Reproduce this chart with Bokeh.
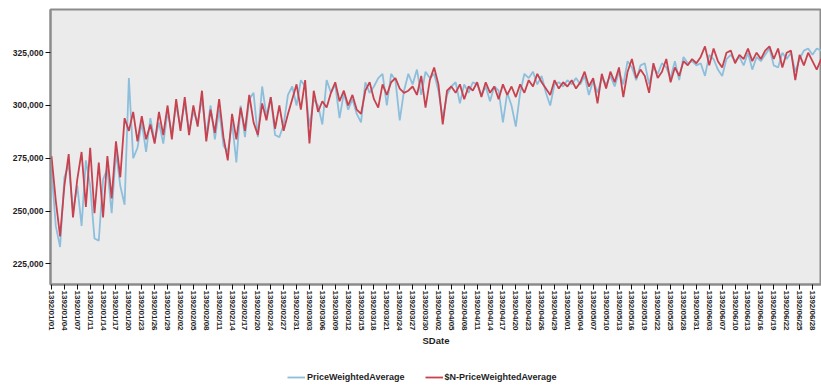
import math
from bokeh.plotting import figure
from bokeh.layouts import column
from bokeh.models import (Range1d, FixedTicker, NumeralTickFormatter, Legend,
                          LegendItem, ColumnDataSource)
from bokeh.embed import file_html
from bokeh.resources import INLINE

# ---------------- data ----------------
tick_labels = [
    "1392/01/01", "1392/01/04", "1392/01/07", "1392/01/11", "1392/01/14",
    "1392/01/17", "1392/01/20", "1392/01/23", "1392/01/26", "1392/01/29",
    "1392/02/02", "1392/02/05", "1392/02/08", "1392/02/11", "1392/02/14",
    "1392/02/17", "1392/02/20", "1392/02/24", "1392/02/27", "1392/02/31",
    "1392/03/03", "1392/03/06", "1392/03/09", "1392/03/12", "1392/03/15",
    "1392/03/18", "1392/03/21", "1392/03/24", "1392/03/27", "1392/03/30",
    "1392/04/02", "1392/04/05", "1392/04/08", "1392/04/11", "1392/04/14",
    "1392/04/17", "1392/04/20", "1392/04/23", "1392/04/26", "1392/04/29",
    "1392/05/01", "1392/05/04", "1392/05/07", "1392/05/10", "1392/05/13",
    "1392/05/16", "1392/05/19", "1392/05/22", "1392/05/25", "1392/05/28",
    "1392/05/31", "1392/06/03", "1392/06/07", "1392/06/10", "1392/06/13",
    "1392/06/16", "1392/06/19", "1392/06/22", "1392/06/25", "1392/06/28",
]
tick_every = 3

price_weighted = [
    270000, 243000, 233000, 266000, 272000, 250000, 262000, 243000, 274000, 262000,
    237000, 236000, 265000, 270000, 249000, 278000, 262000, 253000, 313000, 275000,
    280000, 292000, 278000, 294000, 283000, 292000, 282000, 297000, 287000, 300000,
    290000, 301000, 288000, 297000, 292000, 303000,
    286000, 300000, 284000, 298000, 281000, 278000, 292000, 273000, 300000, 285000,
    303000, 306000, 285000, 309000, 295000, 304000, 286000, 285000, 291000, 305000,
    309000, 300000, 312000, 309000, 290000, 303000, 300000, 291000, 312000, 306000,
    310000, 294000, 306000, 298000, 303000, 296000,
    292000, 311000, 306000, 309000, 313000, 315000, 300000, 315000, 312000, 293000,
    307000, 315000, 310000, 317000, 305000, 316000, 313000, 315000, 307000, 294000,
    305000, 309000, 311000, 301000, 310000, 306000, 311000, 310000, 305000, 309000,
    302000, 309000, 307000, 292000, 306000,
    300000, 290000, 306000, 315000, 313000, 316000, 310000, 314000, 306000, 300000,
    310000, 311000, 309000, 312000, 310000, 313000, 310000, 314000, 305000, 312000,
    306000, 313000, 310000, 314000, 309000, 316000, 310000, 321000, 318000, 312000,
    319000, 320000, 310000, 318000, 315000,
    320000, 318000, 313000, 321000, 312000, 323000, 320000, 321000, 319000, 320000,
    314000, 324000, 322000, 317000, 314000, 322000, 324000, 321000, 323000, 319000,
    325000, 317000, 323000, 321000, 324000, 327000, 319000, 318000, 325000, 322000,
    325000, 316000, 322000, 326000, 327000, 324000, 327000, 326000,
]

n_price_weighted = [
    276000, 255000, 238000, 262000, 277000, 247000, 265000, 278000, 252000, 280000,
    249000, 273000, 247000, 276000, 256000, 283000, 266000, 294000, 288000, 297000,
    283000, 295000, 284000, 291000, 282000, 297000, 286000, 300000, 284000, 303000,
    288000, 304000, 286000, 300000, 290000, 307000,
    283000, 298000, 287000, 303000, 285000, 274000, 296000, 284000, 299000, 288000,
    305000, 292000, 286000, 301000, 293000, 304000, 289000, 300000, 288000, 296000,
    303000, 310000, 298000, 312000, 282000, 307000, 297000, 302000, 299000, 306000,
    311000, 302000, 307000, 300000, 305000, 298000,
    296000, 307000, 311000, 303000, 299000, 310000, 305000, 311000, 313000, 308000,
    306000, 307000, 309000, 305000, 314000, 299000, 312000, 318000, 310000, 291000,
    307000, 309000, 306000, 310000, 303000, 309000, 307000, 311000, 304000, 311000,
    306000, 309000, 303000, 310000, 305000,
    309000, 304000, 310000, 306000, 312000, 309000, 315000, 311000, 308000, 305000,
    312000, 308000, 311000, 309000, 312000, 308000, 311000, 316000, 309000, 313000,
    301000, 315000, 308000, 316000, 311000, 318000, 304000, 316000, 322000, 313000,
    317000, 314000, 306000, 320000, 313000,
    316000, 322000, 311000, 318000, 314000, 321000, 319000, 322000, 320000, 323000,
    328000, 319000, 327000, 321000, 318000, 325000, 326000, 320000, 324000, 322000,
    327000, 321000, 325000, 322000, 326000, 328000, 322000, 327000, 318000, 325000,
    326000, 312000, 324000, 319000, 325000, 321000, 317000, 322000,
]

series_names = ["PriceWeightedAverage", "$N-PriceWeightedAverage"]
series_colors = ["#8DBFDC", "#C8414E"]
y_ticks = [225000, 250000, 275000, 300000, 325000]

# ---------------- main figure ----------------
idx = list(range(len(price_weighted)))
source = ColumnDataSource(dict(x=idx, a=price_weighted, b=n_price_weighted))

FONT = "Liberation Sans"
TXT = "#1e1e1e"

p = figure(frame_width=771, frame_height=275, output_backend="svg",
           toolbar_location=None,
           x_range=Range1d(-0.23, 179.1), y_range=Range1d(215250, 345450),
           min_border_left=50, min_border_right=0, min_border_top=9,
           min_border_bottom=0)
p.background_fill_color = "#EBEBEB"
p.border_fill_color = "white"
p.outline_line_color = "#8C8C8C"
p.outline_line_width = 2
p.grid.visible = False

p.line("x", "a", source=source, line_color=series_colors[0], line_width=1.8)
p.line("x", "b", source=source, line_color=series_colors[1], line_width=1.8)

# x axis
xa = p.xaxis[0]
xa.ticker = FixedTicker(ticks=[i * tick_every for i in range(len(tick_labels))])
xa.major_label_overrides = {i * tick_every: lab for i, lab in enumerate(tick_labels)}
xa.major_label_orientation = -math.pi / 2
xa.minor_tick_line_color = None
xa.major_tick_in = 0
xa.major_tick_out = 5
xa.major_tick_line_color = "#111111"
xa.axis_line_color = "#8C8C8C"
xa.axis_line_width = 2
xa.major_label_standoff = 1
xa.major_label_text_font = FONT
xa.major_label_text_font_style = "bold"
xa.major_label_text_font_size = "8px"
xa.major_label_text_color = TXT
xa.axis_label = "SDate"
xa.axis_label_text_font = FONT
xa.axis_label_text_font_style = "bold"
xa.axis_label_text_font_size = "9.5px"
xa.axis_label_text_color = TXT
xa.axis_label_standoff = 1

# y axis
ya = p.yaxis[0]
ya.ticker = FixedTicker(ticks=y_ticks)
ya.formatter = NumeralTickFormatter(format="0,0")
ya.minor_tick_line_color = None
ya.major_tick_in = 0
ya.major_tick_out = 5
ya.major_tick_line_color = "#111111"
ya.axis_line_color = "#8C8C8C"
ya.axis_line_width = 2
ya.major_label_standoff = 2
ya.major_label_text_font = FONT
ya.major_label_text_font_style = "bold"
ya.major_label_text_font_size = "8.5px"
ya.major_label_text_color = TXT

# ---------------- legend strip ----------------
lg = figure(width=821, height=38, output_backend="svg", toolbar_location=None,
            x_range=Range1d(0, 1), y_range=Range1d(0, 1),
            x_axis_type=None, y_axis_type=None, min_border=0)
lg.outline_line_color = None
lg.grid.visible = False
lg.background_fill_color = "white"
lg.border_fill_color = "white"
# key-only renderers, placed outside the visible range of this strip
key_renderers = [lg.line(x=[5, 6], y=[5, 6], line_color=c, line_width=1.8)
                 for c in series_colors]
legend = Legend(items=[LegendItem(label=n, renderers=[r])
                       for n, r in zip(series_names, key_renderers)],
                orientation="horizontal", location=(237, 3),
                margin=0, padding=0, spacing=20,
                glyph_width=18, glyph_height=12, label_height=12,
                label_standoff=2,
                label_text_font=FONT, label_text_font_style="bold",
                label_text_font_size="9px", label_text_color=TXT,
                border_line_color=None, background_fill_alpha=0)
lg.add_layout(legend, "center")

layout = column(p, lg, spacing=0)
open("out.html", "w").write(file_html(layout, INLINE))
